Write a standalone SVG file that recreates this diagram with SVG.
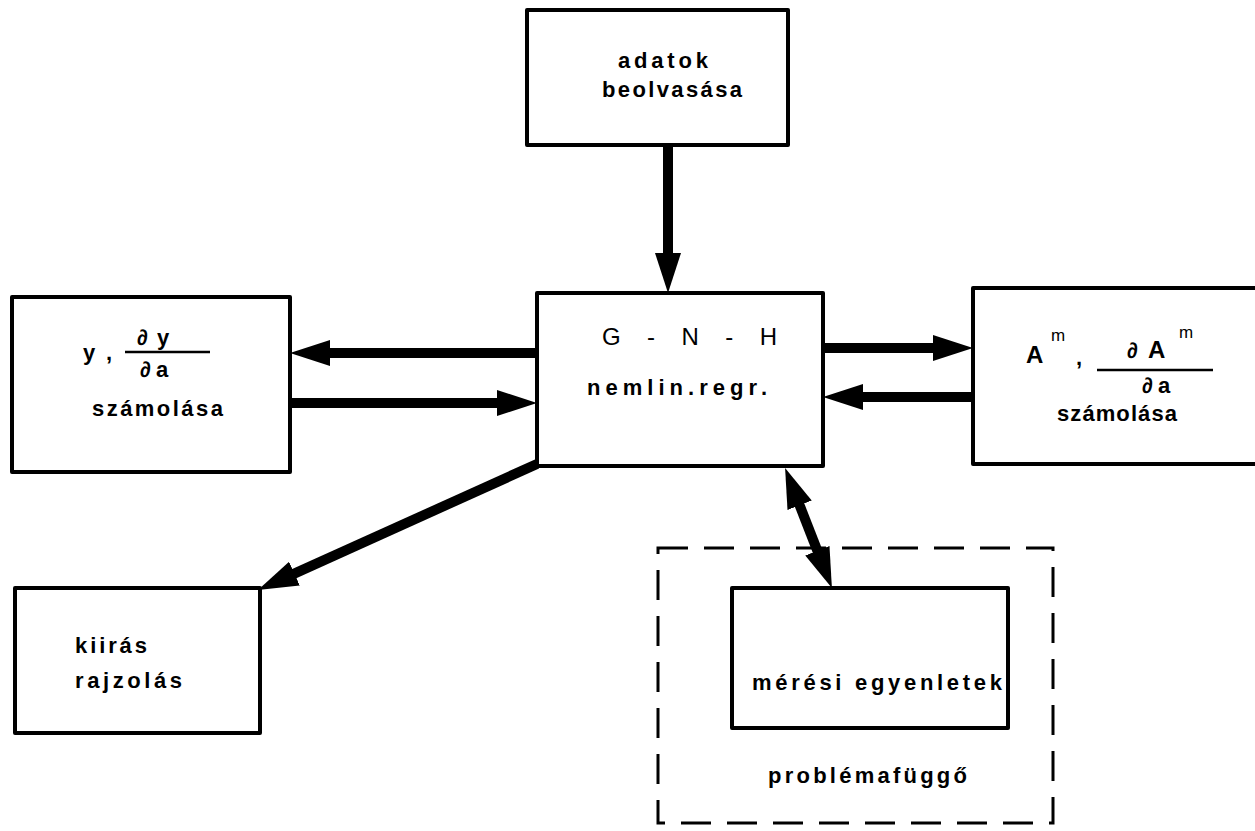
<svg xmlns="http://www.w3.org/2000/svg" width="1255" height="831" viewBox="0 0 1255 831">
<defs>
<style>
.box{fill:#fff;stroke:#000;stroke-width:4;stroke-linejoin:round}
.dash{fill:none;stroke:#000;stroke-width:3;stroke-dasharray:30 16}
.t{font-family:"Liberation Sans",Arial,sans-serif;font-size:22px;font-weight:bold;fill:#000}
.sup{font-family:"Liberation Sans",Arial,sans-serif;font-size:17px;font-weight:normal;fill:#000}
.big{font-family:"Liberation Sans",Arial,sans-serif;font-size:24px;font-weight:normal;fill:#000}
.bigb{font-family:"Liberation Sans",Arial,sans-serif;font-size:24px;font-weight:bold;fill:#000}
.conn{fill:none;stroke:#000;stroke-width:10}
.frac{stroke:#000;stroke-width:2.5}
</style>
<marker id="ah" markerUnits="userSpaceOnUse" markerWidth="42" markerHeight="30" viewBox="0 -15 42 30" refX="2" refY="0" orient="auto-start-reverse">
<path d="M0,-13 L40,0 L0,13 z" fill="#000"/>
</marker>
</defs>
<rect width="1255" height="831" fill="#fff"/>

<g id="connectors">
<line class="conn" x1="668" y1="147" x2="668" y2="255" marker-end="url(#ah)"/>
<line class="conn" x1="537" y1="353" x2="328" y2="353" marker-end="url(#ah)"/>
<line class="conn" x1="290" y1="403" x2="499" y2="403" marker-end="url(#ah)"/>
<line class="conn" x1="823" y1="348" x2="935" y2="348" marker-end="url(#ah)"/>
<line class="conn" x1="973" y1="397" x2="861" y2="397" marker-end="url(#ah)"/>
<line class="conn" x1="537" y1="464" x2="292.6" y2="574.4" marker-end="url(#ah)"/>
<line class="conn" x1="798.9" y1="503.4" x2="818.1" y2="552.6" marker-start="url(#ah)" marker-end="url(#ah)"/>
</g>

<g id="adatok">
<rect class="box" x="527" y="10" width="261" height="135"/>
<text class="t" x="618" y="68" textLength="90" lengthAdjust="spacing">adatok</text>
<text class="t" x="602" y="97" textLength="140" lengthAdjust="spacing">beolvasása</text>
</g>

<g id="gnh">
<rect class="box" x="537" y="293" width="286" height="173"/>
<text class="big" x="602" y="345" textLength="175" lengthAdjust="spacing">G - N - H</text>
<text class="t" x="587" y="395" textLength="180" lengthAdjust="spacing">nemlin.regr.</text>
</g>

<g id="ycalc">
<rect class="box" x="12" y="297" width="278" height="175"/>
<text class="t" x="83" y="360" textLength="29" lengthAdjust="spacing">y ,</text>
<text class="t" x="137 157" y="345">∂y</text>
<line class="frac" x1="125" y1="352" x2="210" y2="352"/>
<text class="t" x="140 156" y="377">∂a</text>
<text class="t" x="92" y="416" textLength="131" lengthAdjust="spacing">számolása</text>
</g>

<g id="acalc">
<rect class="box" x="973" y="288" width="290" height="176"/>
<text class="bigb" x="1026" y="363">A</text>
<text class="sup" x="1051" y="341">m</text>
<text class="t" x="1076" y="365">,</text>
<text class="t" x="1127" y="358">∂</text>
<text class="bigb" x="1148" y="358">A</text>
<text class="sup" x="1179" y="338">m</text>
<line class="frac" x1="1097" y1="370" x2="1213" y2="370"/>
<text class="t" x="1142 1158" y="393">∂a</text>
<text class="t" x="1057" y="421" textLength="120" lengthAdjust="spacing">számolása</text>
</g>

<g id="kiiras">
<rect class="box" x="15" y="588" width="245" height="145"/>
<text class="t" x="75" y="653" textLength="72" lengthAdjust="spacing">kiirás</text>
<text class="t" x="75" y="688" textLength="107" lengthAdjust="spacing">rajzolás</text>
</g>

<g id="problemafuggo">
<rect class="dash" x="658" y="548" width="395" height="275"/>
<text class="t" x="768" y="783" textLength="199" lengthAdjust="spacing">problémafüggő</text>
</g>

<g id="meresi">
<rect class="box" x="732" y="588" width="276" height="140"/>
<text class="t" x="752" y="690" textLength="250" lengthAdjust="spacing">mérési  egyenletek</text>
</g>
</svg>
